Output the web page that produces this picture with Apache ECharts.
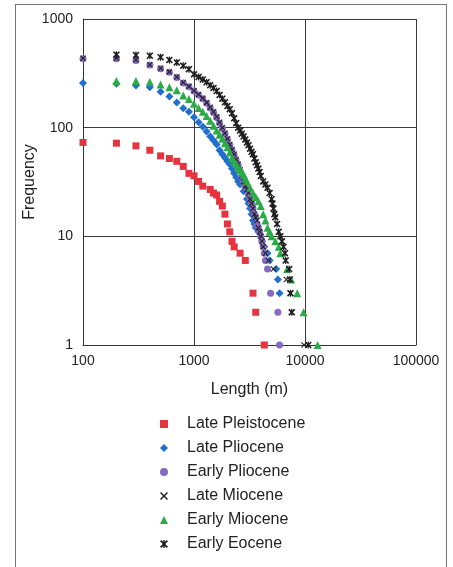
<!DOCTYPE html>
<html>
<head>
<meta charset="utf-8">
<script src="https://cdn.jsdelivr.net/npm/echarts@6/dist/echarts.min.js"></script>
<style>
    html, body { margin: 0; padding: 0; background: #fff; }
    #wrap { position: relative; width: 453px; height: 567px; overflow: hidden; }
    #frame { position: absolute; left: 15px; top: 4px; width: 430px; height: 600px; border: 1px solid #777; }
    #chart { position: absolute; left: 0; top: 0; width: 453px; height: 567px; }
</style>
</head>
<body>
<div id="wrap">
    <div id="frame"></div>
    <div id="chart"></div>
</div>
<script>
'use strict';

// 轴刻度
var xTicks = ['100', '1000', '10000', '100000'];
var yTicks = ['1', '10', '100', '1000'];

// [长度(m), 累计数量]
var latePleistocene = [[100, 73], [200, 72], [300, 68], [400, 62], [500, 55], [600, 52], [700, 49], [800, 44], [900, 38], [1000, 36],
    [1100, 32], [1200, 29], [1400, 27], [1500, 25], [1600, 24], [1700, 21], [1800, 19], [1900, 16], [2000, 13], [2100, 11],
    [2200, 9], [2300, 8], [2600, 7], [2900, 6], [3400, 3], [3600, 2], [4300, 1]];

var latePliocene = [[100, 257], [200, 253], [300, 244], [400, 235], [500, 214], [600, 194], [700, 170], [800, 151], [900, 140], [1000, 125],
    [1100, 112], [1200, 102], [1300, 92], [1400, 83], [1500, 76], [1600, 70], [1700, 62], [1800, 57], [1900, 53], [2000, 49],
    [2100, 46], [2200, 42], [2300, 38], [2400, 35], [2500, 32], [2600, 30], [2800, 26], [3000, 22], [3100, 20], [3200, 18],
    [3300, 16], [3400, 14], [3500, 13], [3600, 12], [3800, 11], [4000, 10], [4100, 9], [4300, 8], [4600, 7], [4800, 6],
    [5500, 5], [5700, 4], [5900, 3]];

var earlyPliocene = [[100, 431], [200, 431], [300, 416], [400, 377], [500, 349], [600, 323], [700, 290], [800, 257], [900, 238], [1000, 217],
    [1100, 200], [1200, 185], [1300, 168], [1400, 152], [1500, 138], [1600, 124], [1700, 110], [1800, 98], [1900, 88], [2000, 78],
    [2100, 69], [2200, 62], [2300, 56], [2400, 50], [2500, 45], [2600, 40], [2700, 35], [2800, 31], [2900, 29], [3000, 27],
    [3100, 24], [3200, 22], [3300, 20], [3400, 18], [3500, 16], [3600, 15], [3700, 13], [3800, 12], [3900, 11], [4000, 10],
    [4100, 9], [4200, 8], [4300, 7], [4400, 6], [4600, 5], [4900, 3], [5700, 2], [5900, 1]];

var lateMiocene = [[100, 436], [200, 436], [300, 420], [400, 380], [500, 352], [600, 326], [700, 293], [800, 260], [900, 240], [1000, 219],
    [1100, 202], [1200, 187], [1300, 170], [1400, 154], [1500, 140], [1600, 126], [1700, 112], [1800, 100], [1900, 89], [2000, 79],
    [2100, 70], [2200, 63], [2300, 57], [2400, 51], [2500, 46], [2600, 41], [2700, 36], [2800, 32], [2900, 29], [3000, 27],
    [3100, 25], [3200, 22], [3300, 20], [3400, 18], [3500, 16], [3600, 15], [3700, 14], [3800, 12], [3900, 11], [4000, 10],
    [4100, 9], [4200, 8], [4400, 7], [4700, 6], [5200, 5], [6800, 4], [7400, 3], [7600, 2], [9800, 1]];

var earlyMiocene = [[200, 269], [300, 269], [400, 263], [500, 249], [600, 235], [700, 221], [800, 198], [900, 184], [1000, 166],
    [1100, 152], [1200, 140], [1300, 128], [1400, 116], [1500, 104], [1600, 94], [1700, 86], [1800, 79], [1900, 72], [2000, 66],
    [2100, 59], [2200, 53], [2300, 49], [2400, 46], [2500, 43], [2600, 41], [2700, 39], [2800, 37], [2900, 34], [3000, 32],
    [3200, 28], [3400, 25], [3600, 23], [3800, 21], [4000, 19], [4200, 16], [4400, 14], [4600, 12], [4800, 11], [5000, 10],
    [5400, 9], [5800, 8], [6000, 7], [6900, 5], [7500, 4], [8500, 3], [9700, 2], [13000, 1]];

var earlyEocene = [[200, 470], [300, 466], [400, 459], [500, 445], [600, 420], [700, 398], [800, 372], [900, 345], [1000, 310],
    [1100, 293], [1200, 278], [1300, 262], [1400, 246], [1500, 232], [1600, 217], [1700, 200], [1800, 185], [1900, 171], [2000, 158],
    [2100, 148], [2200, 136], [2300, 122], [2400, 110], [2500, 100], [2600, 94], [2700, 88], [2800, 83], [2900, 78], [3000, 73],
    [3100, 69], [3200, 64], [3300, 60], [3400, 57], [3500, 52], [3600, 48], [3700, 45], [3800, 42], [3900, 39], [4000, 36],
    [4200, 32], [4400, 30], [4600, 28], [4800, 25], [5000, 22], [5100, 20], [5200, 18], [5300, 16], [5400, 15], [5600, 13],
    [5800, 11], [6000, 10], [6200, 9], [6400, 8], [6600, 7], [6700, 6], [7200, 5], [7300, 4], [7400, 3], [7600, 2], [10700, 1]];

var seriesNames = ['Late Pleistocene', 'Late Pliocene', 'Early Pliocene', 'Late Miocene', 'Early Miocene', 'Early Eocene'];

// 标记形状 (图例里用path保持比例)
var squarePath = 'path://M0,0 L10,0 L10,10 L0,10 Z';
var diamondPath = 'path://M5,0 L10,5 L5,10 L0,5 Z';
var trianglePath = 'path://M5,0 L10,10 L0,10 Z';
var crossPath = 'path://M0,1.3 L1.3,0 L5,3.7 L8.7,0 L10,1.3 L6.3,5 L10,8.7 L8.7,10 L5,6.3 L1.3,10 L0,8.7 L3.7,5 Z';
var starPath = 'path://M0,1.6 L1.6,0 L5,3.4 L8.4,0 L10,1.6 L6.6,5 L10,8.4 L8.4,10 L5,6.6 L1.6,10 L0,8.4 L3.4,5 Z M4.1,0 L5.9,0 L5.9,10 L4.1,10 Z';
var seriesIcons = [squarePath, diamondPath, 'circle', crossPath, trianglePath, starPath];

var fontFamily = '"Liberation Sans", Arial, sans-serif';

function makeSeries(name, data, symbol, size, color) {
    return {
        name: name,
        type: 'scatter',
        data: data,
        symbol: symbol,
        symbolSize: size,
        itemStyle: { color: color, opacity: 1 },
        emphasis: { disabled: true },
        silent: true
    };
}

var labelFormatter = function (ticks) {
    return function (v) {
        var s = String(Math.round(v));
        return ticks.indexOf(s) >= 0 ? s : '';
    };
};

var legendData = [];
for (var i = 0; i < seriesNames.length; i++) {
    legendData.push({ name: seriesNames[i], icon: seriesIcons[i] });
}

var option = {
    animation: false,
    backgroundColor: 'transparent',
    textStyle: { fontFamily: fontFamily },
    grid: { left: 83, top: 19, width: 333, height: 326, show: false },
    xAxis: {
        type: 'log',
        logBase: 10,
        min: 100,
        max: 100000,
        name: 'Length (m)',
        nameLocation: 'middle',
        nameGap: 37,
        nameMoveOverlap: false,
        nameTextStyle: { fontSize: 16, color: '#222', fontFamily: fontFamily },
        axisLine: { show: true, lineStyle: { color: '#333', width: 1 } },
        axisTick: { show: false },
        axisLabel: { fontSize: 14, color: '#222', margin: 9, formatter: labelFormatter(xTicks), fontFamily: fontFamily },
        splitLine: { show: true, lineStyle: { color: '#3a3a3a', width: 1 } }
    },
    yAxis: {
        type: 'log',
        logBase: 10,
        min: 1,
        max: 1000,
        name: 'Frequency',
        nameLocation: 'middle',
        nameGap: 45,
        nameMoveOverlap: false,
        nameTextStyle: { fontSize: 16, color: '#222', fontFamily: fontFamily },
        axisLine: { show: true, lineStyle: { color: '#333', width: 1 } },
        axisTick: { show: false },
        axisLabel: { fontSize: 14, color: '#222', margin: 10, formatter: labelFormatter(yTicks), fontFamily: fontFamily },
        splitLine: { show: true, lineStyle: { color: '#3a3a3a', width: 1 } }
    },
    legend: {
        orient: 'vertical',
        left: 155,
        top: 411,
        itemWidth: 36,
        itemHeight: 8,
        itemGap: 8,
        selectedMode: false,
        textStyle: { fontSize: 16, color: '#222', lineHeight: 16, fontFamily: fontFamily },
        data: legendData
    },
    series: [
        makeSeries(seriesNames[0], latePleistocene, 'rect', 7, '#e3343f'),
        makeSeries(seriesNames[1], latePliocene, 'diamond', 8, '#1f6fce'),
        makeSeries(seriesNames[2], earlyPliocene, 'circle', 7, '#8669c2'),
        makeSeries(seriesNames[3], lateMiocene, crossPath, 6, '#222222'),
        makeSeries(seriesNames[4], earlyMiocene, 'triangle', 8, '#2aab48'),
        makeSeries(seriesNames[5], earlyEocene, starPath, 7, '#1e1e1e')
    ]
};

var myChart = echarts.init(document.getElementById('chart'), null, { renderer: 'canvas' });
myChart.setOption(option);
</script>
</body>
</html>
